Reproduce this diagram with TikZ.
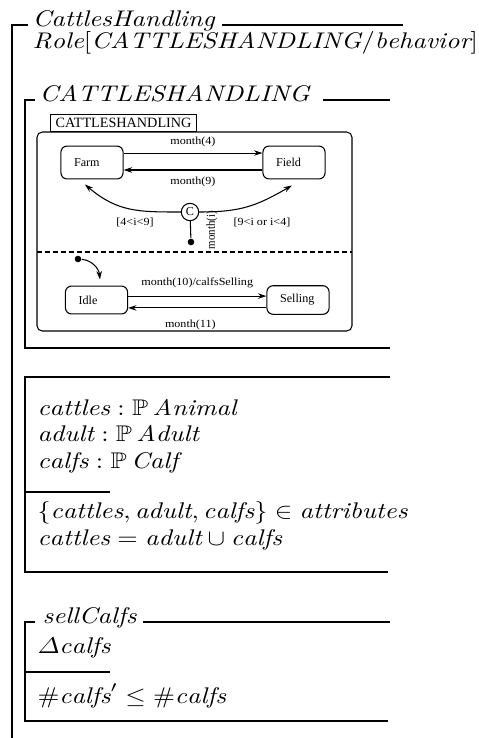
\documentclass[tikz,border=0pt]{standalone}
\usepackage{amsmath, amssymb}
\usepackage{fontspec}
\newfontfamily\chartfont{Liberation Serif}
\usetikzlibrary{arrows.meta, positioning}

\newcommand{\zid}[1]{\mathit{#1}}

\tikzset{
    zline/.style={line width=1pt},
    ztext/.style={anchor=base west, inner sep=0pt, yscale=0.86},
    lbl/.style={font=\chartfont\fontsize{4.6}{5.5}\selectfont, inner sep=0.8pt, yscale=0.9},
    state/.style={draw, line width=0.4pt, rounded corners=2.3pt, text width=13.6pt,
        inner xsep=5pt, align=left, font=\chartfont\fontsize{4.6}{5.5}\selectfont},
    trans/.style={-{Stealth[length=3.2pt, width=2.1pt]}, line width=0.4pt},
    dot/.style={circle, fill, inner sep=0pt, minimum size=2.5pt},
}

\begin{document}
\begin{tikzpicture}[x=0.38pt, y=0.38pt]
    \useasboundingbox (0,0) rectangle (479,-738);

    % Class schema
    \draw[zline] (28,-25) -- (12,-25) -- (12,-738);
    \draw[zline] (222,-25) -- (403,-25);
    \node[ztext] (classname) at (32,-26) {$\zid{CattlesHandling}$};
    \node[ztext] (role) at (32,-48) {$\zid{Role}[\zid{CATTLESHANDLING}/\zid{behavior}]$};

    % Behaviour schema with the statechart
    \draw[zline] (35,-100) -- (25,-100) -- (25,-348) -- (390,-348);
    \draw[zline] (323,-100) -- (390,-100);
    \node[ztext] (behname) at (39,-101) {$\zid{CATTLESHANDLING}$};

    \begin{scope}[line width=0.4pt]
        \draw[rounded corners=2pt] (37,-132) rectangle (352,-331);
        \node[draw, anchor=south west, minimum width=55.5pt, minimum height=6.5pt, inner sep=0pt,
            font=\chartfont\fontsize{5.4}{6}\selectfont] (tab) at (50,-132) {CATTLESHANDLING};

        % upper region
        \node[state, minimum height=12.5pt] (farm) at (92,-162.5) {Farm};
        \node[state, minimum height=12.5pt] (field) at (294,-162.5) {Field};
        \draw[trans] ([yshift=3.6pt]farm.east) -- ([yshift=3.6pt]field.west)
            node[lbl, midway, above=1.3pt] {month(4)};
        \draw[trans] ([yshift=-2.85pt]field.west) -- ([yshift=-2.85pt]farm.east)
            node[lbl, midway, below=1.6pt] {month(9)};

        \node[draw, circle, inner sep=0pt, minimum size=5.3pt, lbl, yscale=1/0.9] (conn) at (190,-212) {C};
        \draw[trans] (conn.west) to[out=180, in=-40, looseness=1.1] ([xshift=-2.7pt, yshift=-1.9pt]farm.south);
        \draw[trans] (conn.east) to[out=0, in=-150, looseness=1.1] ([xshift=-0.8pt, yshift=-2.3pt]field.south);
        \node[lbl] (lguard) at (135,-222) {[4<i<9]};
        \node[lbl] (rguard) at (262,-222) {[9<i or i<4]};

        \node[dot] (init) at (191,-242) {};
        \draw (init) -- (conn);
        \node[lbl, rotate=90] (monthi) at (212,-230) {month(i)};

        \draw[dashed, dash pattern=on 1.9pt off 1.15pt] (37,-252) -- (352,-252);

        % lower region
        \node[state, minimum height=10.6pt] (idle) at (96.5,-300) {Idle};
        \node[state, minimum height=10.6pt] (selling) at (298,-300) {Selling};
        \node[dot] (init2) at (78,-259) {};
        \draw[trans] (init2) to[out=-5, in=95] ([xshift=1.3pt, yshift=2.3pt]idle.north);
        \draw[trans] ([yshift=1.5pt]idle.east) -- ([yshift=1.5pt]selling.west)
            node[lbl, midway, above=2.3pt] {month(10)/calfsSelling};
        \draw[trans] ([yshift=-3pt]selling.west) -- ([yshift=-3pt]idle.east)
            node[lbl, pos=0.55, below=3.5pt] {month(11)};
    \end{scope}

    % State schema
    \draw[zline] (390,-377) -- (25,-377) -- (25,-572) -- (388,-572);
    \draw[zline] (25,-492) -- (110,-492);
    \foreach \y/\decl in {415/{\zid{cattles} : \mathbb{P}\,\zid{Animal}}, 441.5/{\zid{adult} : \mathbb{P}\,\zid{Adult}},
                          468/{\zid{calfs} : \mathbb{P}\,\zid{Calf}}} {
        \node[ztext] (decl\y) at (37,-\y) {$\decl$};
    }
    \node[ztext] (inv1) at (37,-518) {$\{\zid{cattles}, \zid{adult}, \zid{calfs}\} \in \zid{attributes}$};
    \node[ztext] (inv2) at (37,-545) {$\zid{cattles} = \zid{adult} \cup \zid{calfs}$};

    % Operation schema
    \draw[zline] (35,-622) -- (25,-622) -- (25,-721) -- (388,-721);
    \draw[zline] (143,-622) -- (390,-622);
    \draw[zline] (25,-672) -- (110,-672);
    \node[ztext] (opname) at (42,-623) {$\zid{sellCalfs}$};
    \node[ztext] (delta) at (37,-653) {$\varDelta\zid{calfs}$};
    \node[ztext] (pred) at (37,-703) {$\#\zid{calfs}' \leq \#\zid{calfs}$};
\end{tikzpicture}
\end{document}
